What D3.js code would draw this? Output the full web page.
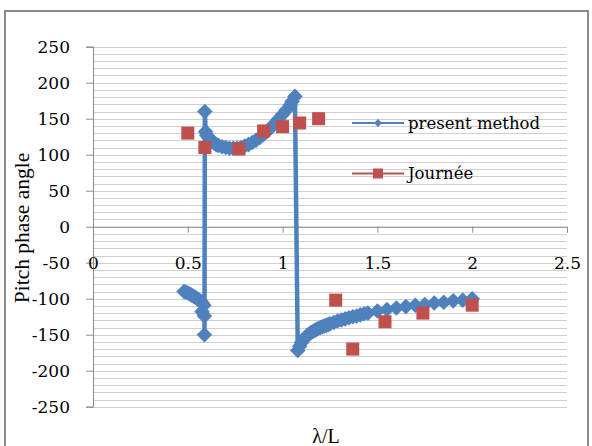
<!DOCTYPE html>
<html>
<head>
<meta charset="utf-8">
<script src="https://cdn.jsdelivr.net/npm/d3@7"></script>
<style>
  html, body { margin: 0; padding: 0; background: #fff; }
  svg { display: block; }
</style>
</head>
<body>
<svg id="chart" width="592" height="446"></svg>
<script>
// λ/L and pitch phase angle (deg) for the present method
const presentLambda = [
  0.48, 0.49, 0.50, 0.51, 0.52, 0.53, 0.54, 0.55, 0.56, 0.57, 0.575, 0.585, 0.575, 0.588, 0.588,
  0.59, 0.594, 0.60, 0.61, 0.62, 0.63, 0.64, 0.65, 0.66, 0.68, 0.70, 0.72, 0.74, 0.76, 0.78,
  0.80, 0.82, 0.84, 0.86, 0.88, 0.90, 0.92, 0.94, 0.96, 0.98, 1.00, 1.02, 1.04, 1.05, 1.065,
  1.08, 1.09, 1.10, 1.11, 1.12, 1.13, 1.14, 1.15, 1.16, 1.17, 1.18, 1.19, 1.20, 1.21, 1.22,
  1.23, 1.24, 1.25, 1.27, 1.29, 1.31, 1.33, 1.35, 1.37, 1.39, 1.41, 1.43, 1.45, 1.50, 1.55,
  1.60, 1.65, 1.70, 1.75, 1.80, 1.85, 1.90, 1.95, 2.00
];
const presentPhase = [
  -90, -91, -92, -93.5, -95, -96.5, -98, -100, -102, -104, -106, -109, -118, -124, -150,
  160, 132, 127, 124, 121, 118, 116, 114, 113, 111, 110, 109, 109, 109, 110,
  112, 114, 117, 120, 124, 128, 133, 138, 144, 150, 156, 162, 169, 174, 181,
  -172, -166, -161, -157, -154, -151, -149, -147, -145.5, -144, -142.5, -141, -140, -139, -138,
  -137, -136, -135, -133, -131, -129.5, -128, -126.5, -125, -124, -122.5, -121, -120, -117, -115,
  -113, -111, -109, -108, -106, -105, -103, -102, -100
];

// Journée experimental values
const journeeLambda = [0.50, 0.59, 0.77, 0.90, 1.00, 1.09, 1.19, 1.28, 1.37, 1.54, 1.74, 2.00];
const journeePhase  = [130, 110, 108, 133, 139, 144, 150, -102, -170, -132, -120, -109];

const xTicks = [0, 0.5, 1, 1.5, 2, 2.5];
const yTicks = [250, 200, 150, 100, 50, 0, -50, -100, -150, -200, -250];
const seriesNames = ["present method", "Journée"];
const colors = { present: "#4f81bd", journee: "#c0504d" };

const svg = d3.select("#chart");
const x = d3.scaleLinear().domain([0, 2.5]).range([93, 567]);
const y = d3.scaleLinear().domain([-250, 250]).range([406.7, 46.7]);

// chart frame
svg.append("rect")
  .attr("x", 5).attr("y", 11).attr("width", 583).attr("height", 450)
  .attr("fill", "#fff").attr("stroke", "#8c8c8c").attr("stroke-width", 2);

// horizontal gridlines every 10 units
const gridVals = d3.range(-250, 251, 10);
svg.append("g").selectAll("line").data(gridVals).join("line")
  .attr("x1", x(0)).attr("x2", x(2.5))
  .attr("y1", d => Math.round(y(d)) + 0.5).attr("y2", d => Math.round(y(d)) + 0.5)
  .attr("stroke", "#cfcfcf").attr("stroke-width", 1);

// y axis
const yAxis = d3.axisLeft(y).tickValues(yTicks).tickSize(7).tickPadding(16)
  .tickFormat(d3.format("d"));
const gy = svg.append("g").attr("transform", `translate(${x(0)},0)`).call(yAxis);
gy.select(".domain").attr("stroke", "#8c8c8c");
gy.selectAll(".tick line").attr("stroke", "#8c8c8c");
gy.selectAll(".tick text")
  .attr("font-family", "DejaVu Serif").attr("font-size", 17).attr("fill", "#000")
  .text(d => d < 0 ? "-" + Math.abs(d) : d);

// x axis along zero, labels set lower down
const xAxis = d3.axisBottom(x).tickValues(xTicks).tickSize(6).tickPadding(0)
  .tickFormat(d => d);
const gx = svg.append("g").attr("transform", `translate(0,${y(0)})`).call(xAxis);
gx.select(".domain").attr("stroke", "#8c8c8c");
gx.selectAll(".tick line").attr("stroke", "#8c8c8c");
gx.selectAll(".tick text")
  .attr("font-family", "DejaVu Serif").attr("font-size", 17).attr("fill", "#000")
  .attr("dy", null).attr("y", 42);

// present method line + diamonds
const line = d3.line().x((d, i) => x(presentLambda[i])).y(d => y(d));
svg.append("path").datum(presentPhase)
  .attr("d", line).attr("fill", "none")
  .attr("stroke", colors.present).attr("stroke-width", 4.5).attr("stroke-linejoin", "round");

// square-rotated diamond marker
const diamondPath = h => `M0,${-h}L${h},0L0,${h}L${-h},0Z`;
svg.append("g").selectAll("path").data(presentPhase).join("path")
  .attr("d", diamondPath(7.8))
  .attr("transform", (d, i) => `translate(${x(presentLambda[i])},${y(d)})`)
  .attr("fill", colors.present);

// Journée squares
const sq = 13;
svg.append("g").selectAll("rect").data(journeePhase).join("rect")
  .attr("x", (d, i) => x(journeeLambda[i]) - sq / 2)
  .attr("y", d => y(d) - sq / 2)
  .attr("width", sq).attr("height", sq)
  .attr("fill", colors.journee);

// legend
const legend = svg.append("g");
const legendRows = [
  { name: seriesNames[0], color: colors.present, cy: 123, mark: "diamond" },
  { name: seriesNames[1], color: colors.journee, cy: 173.5, mark: "square" }
];
legendRows.forEach(r => {
  legend.append("line").attr("x1", 352).attr("x2", 404).attr("y1", r.cy).attr("y2", r.cy)
    .attr("stroke", r.color).attr("stroke-width", 2.2);
  if (r.mark === "diamond") {
    legend.append("path").attr("d", diamondPath(4))
      .attr("transform", `translate(378,${r.cy})`).attr("fill", r.color);
  } else {
    legend.append("rect").attr("x", 373).attr("y", r.cy - 5).attr("width", 10).attr("height", 10)
      .attr("fill", r.color);
  }
  legend.append("text").attr("x", 408).attr("y", r.cy + 5.5)
    .attr("font-family", "DejaVu Serif").attr("font-size", 16.5).attr("fill", "#000")
    .text(r.name);
});

// axis titles
svg.append("text")
  .attr("transform", "translate(29,228) rotate(-90)")
  .attr("text-anchor", "middle")
  .attr("font-family", "Liberation Serif").attr("font-size", 21.5).attr("fill", "#000")
  .text("Pitch phase angle");

svg.append("text")
  .attr("x", 326).attr("y", 443)
  .attr("text-anchor", "middle")
  .attr("font-family", "Liberation Serif").attr("font-size", 20).attr("fill", "#000")
  .text("λ/L");
</script>
</body>
</html>
